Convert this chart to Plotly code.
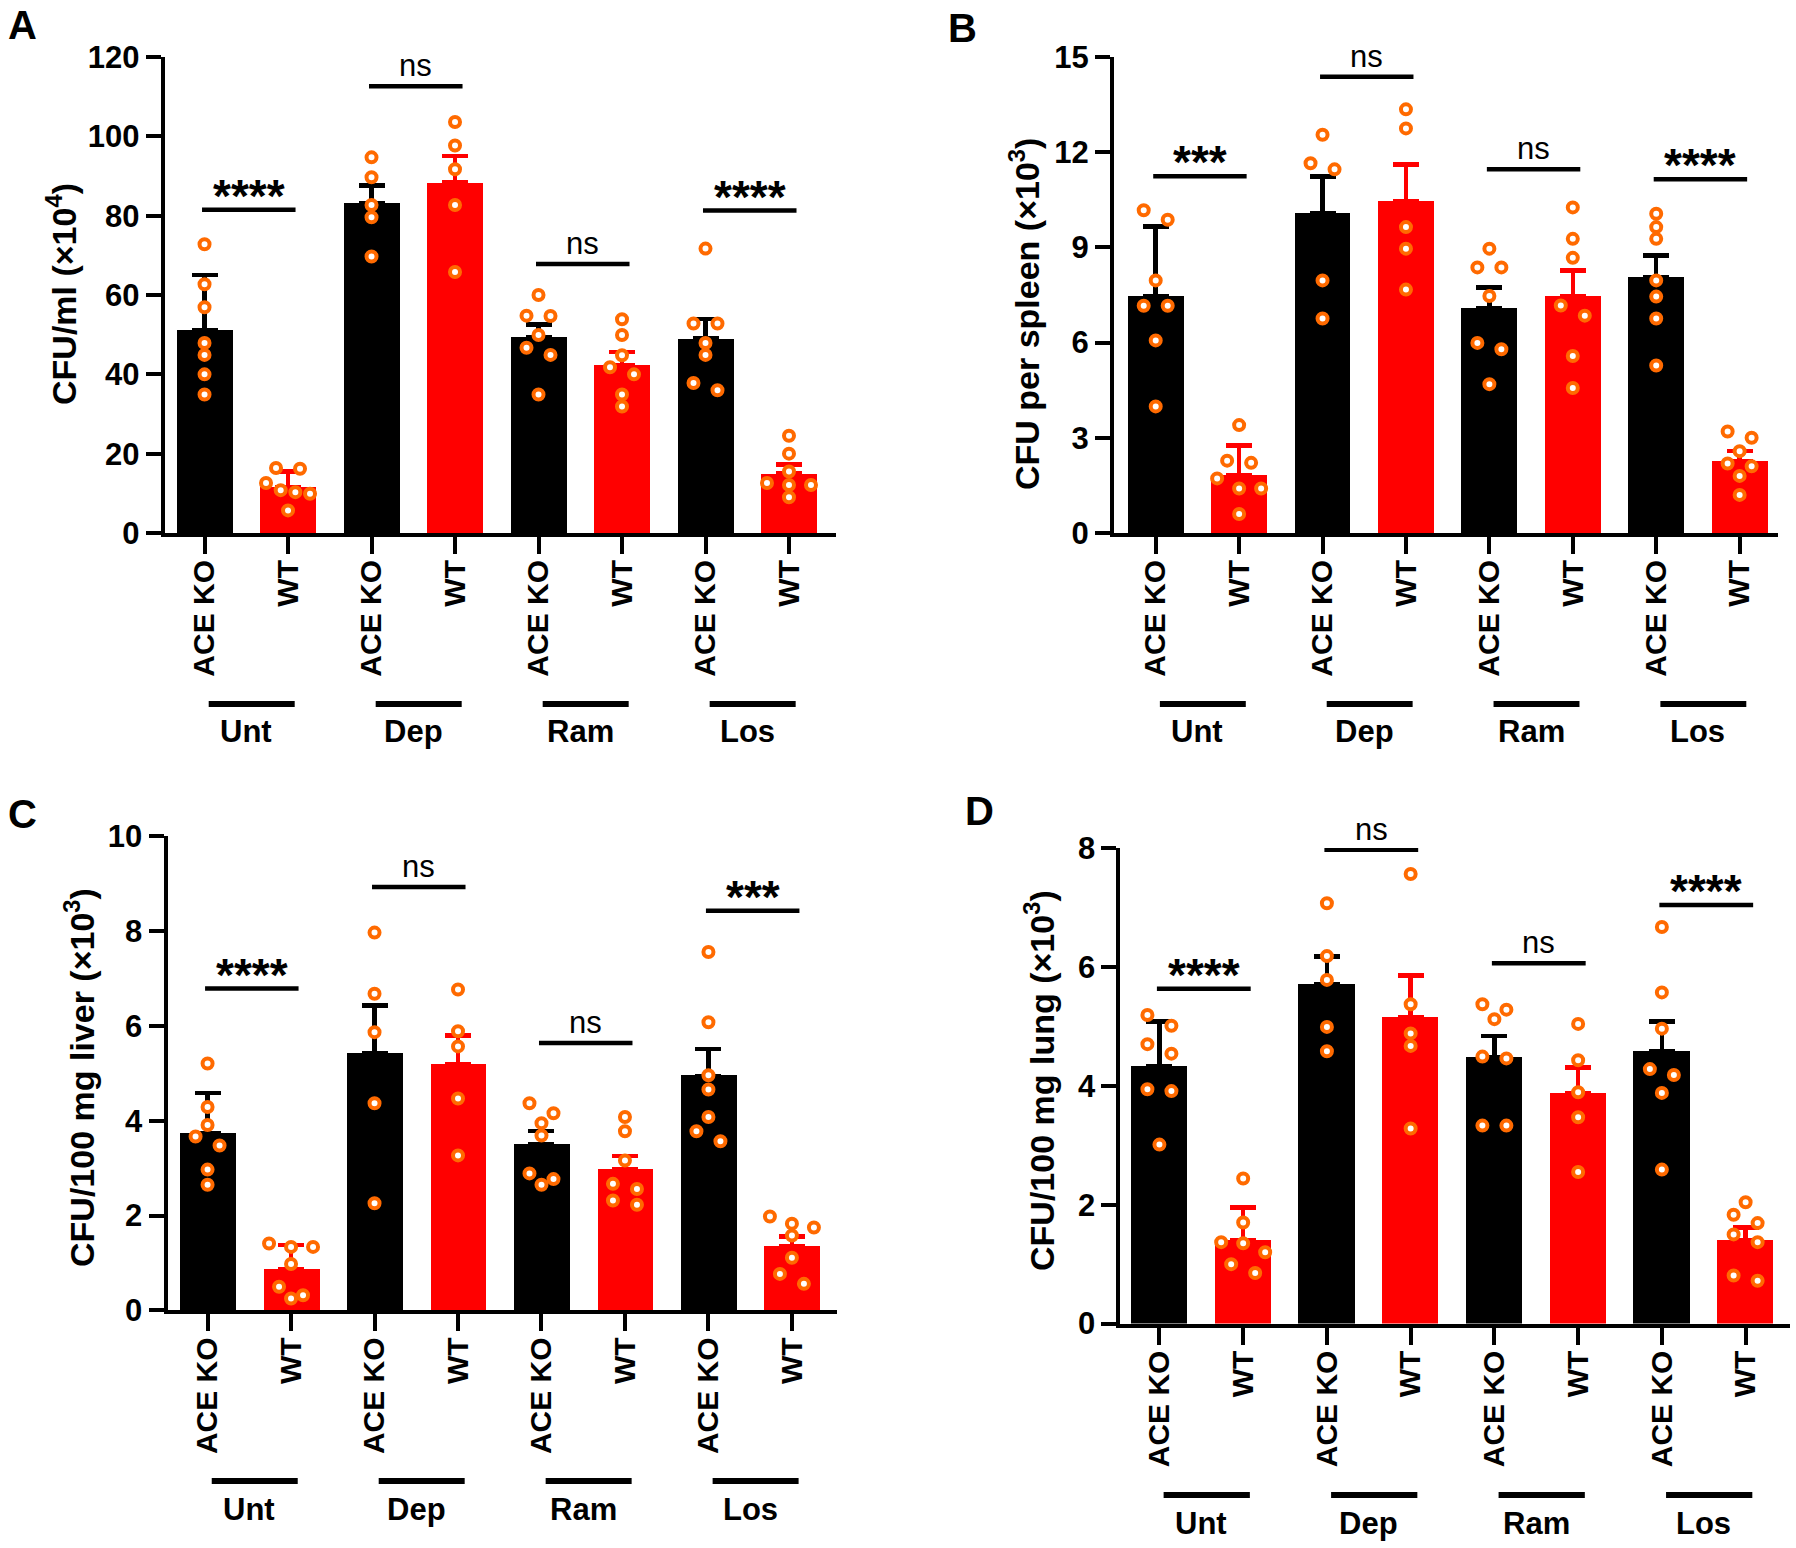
import plotly.graph_objects as go

W, H = 1796, 1548

# ---------------- data ----------------
groups = ["Unt", "Dep", "Ram", "Los"]
genotypes = ["ACE KO", "WT"]
x_tick_labels = [g for _ in groups for g in genotypes]

# Panel A - blood
a_ylabel = "CFU/ml (×10<sup>4</sup>)"
a_yticks = [0, 20, 40, 60, 80, 100, 120]
a_mean = [51.2, 11.6, 83.2, 88.3, 49.3, 42.4, 49.0, 15.0]
a_err = [13.8, 3.9, 4.4, 6.7, 3.3, 3.2, 4.9, 2.3]
a_points = [
    [72.8, 62.7, 56.9, 47.9, 44.9, 40.0, 34.9],
    [16.4, 16.2, 12.6, 10.8, 10.3, 9.9, 5.7],
    [94.7, 89.7, 82.7, 79.6, 69.7],
    [103.6, 97.7, 91.7, 82.7, 65.8],
    [60.0, 54.8, 54.7, 49.9, 46.7, 44.9, 34.9],
    [53.9, 49.9, 44.8, 41.8, 40.0, 34.9, 31.9],
    [71.7, 52.8, 52.8, 47.9, 44.9, 37.8, 36.0],
    [24.5, 20.0, 15.5, 12.6, 12.1, 12.1, 9.0],
]
a_sig = ["****", "ns", "ns", "****"]
a_sig_y = [81.5, 112.6, 67.8, 81.3]

# Panel B - spleen
b_ylabel = "CFU per spleen (×10<sup>3</sup>)"
b_yticks = [0, 3, 6, 9, 12, 15]
b_mean = [7.47, 1.83, 10.08, 10.47, 7.08, 7.47, 8.07, 2.27]
b_err = [2.19, 0.92, 1.16, 1.14, 0.66, 0.81, 0.68, 0.31]
b_points = [
    [10.17, 9.87, 7.96, 7.16, 7.16, 6.07, 3.99],
    [3.40, 2.28, 2.21, 1.72, 1.40, 1.40, 0.60],
    [12.55, 11.65, 11.46, 7.96, 6.76],
    [13.35, 12.75, 9.64, 8.96, 7.67],
    [8.96, 8.37, 8.37, 7.47, 5.99, 5.79, 4.69],
    [10.26, 9.27, 8.67, 7.17, 6.85, 5.58, 4.57],
    [10.06, 9.64, 9.27, 7.96, 7.45, 6.76, 5.28],
    [3.20, 3.00, 2.58, 2.19, 2.10, 1.80, 1.20],
]
b_sig = ["***", "ns", "ns", "****"]
b_sig_y = [11.24, 14.38, 11.46, 11.15]

# Panel C - liver
c_ylabel = "CFU/100 mg liver (×10<sup>3</sup>)"
c_yticks = [0, 2, 4, 6, 8, 10]
c_mean = [3.73, 0.86, 5.42, 5.19, 3.50, 2.97, 4.95, 1.36]
c_err = [0.86, 0.52, 1.01, 0.61, 0.28, 0.29, 0.56, 0.20]
c_points = [
    [5.21, 4.29, 3.91, 3.67, 3.48, 2.97, 2.65],
    [1.41, 1.34, 1.34, 0.98, 0.50, 0.32, 0.25],
    [7.97, 6.68, 5.87, 4.37, 2.26],
    [6.77, 5.89, 5.57, 4.47, 3.27],
    [4.37, 4.16, 3.95, 3.69, 2.89, 2.77, 2.65],
    [4.08, 3.78, 3.16, 2.67, 2.56, 2.32, 2.23],
    [7.56, 6.08, 4.96, 4.66, 4.08, 3.78, 3.57],
    [1.98, 1.83, 1.75, 1.58, 1.11, 0.77, 0.56],
]
c_sig = ["****", "ns", "ns", "***"]
c_sig_y = [6.79, 8.93, 5.64, 8.43]

# Panel D - lung
d_ylabel = "CFU/100 mg lung (×10<sup>3</sup>)"
d_yticks = [0, 2, 4, 6, 8]
d_mean = [4.33, 1.41, 5.71, 5.15, 4.48, 3.88, 4.58, 1.41]
d_err = [0.75, 0.54, 0.46, 0.70, 0.36, 0.43, 0.50, 0.21]
d_points = [
    [5.19, 5.01, 4.70, 4.54, 3.94, 3.91, 3.01],
    [2.44, 1.70, 1.37, 1.35, 1.20, 1.00, 0.85],
    [7.07, 6.18, 5.78, 4.99, 4.58],
    [7.56, 5.37, 4.88, 4.67, 3.28],
    [5.37, 5.28, 5.12, 4.49, 4.46, 3.33, 3.33],
    [5.04, 4.43, 3.89, 3.47, 2.55],
    [6.67, 5.57, 4.96, 4.28, 4.18, 3.88, 2.59],
    [2.04, 1.83, 1.69, 1.50, 1.37, 0.81, 0.72],
]
d_sig = ["****", "ns", "ns", "****"]
d_sig_y = [5.63, 7.97, 6.06, 7.04]

panel_data = [
    ("A", a_ylabel, a_yticks, a_mean, a_err, a_points, a_sig, a_sig_y),
    ("B", b_ylabel, b_yticks, b_mean, b_err, b_points, b_sig, b_sig_y),
    ("C", c_ylabel, c_yticks, c_mean, c_err, c_points, c_sig, c_sig_y),
    ("D", d_ylabel, d_yticks, d_mean, d_err, d_points, d_sig, d_sig_y),
]

# ---------------- layout (pixel geometry) ----------------
panel_geom = [
    dict(xdom=(164.7, 836), ydom=(533, 57), xr=(-0.477, 7.563), title=(61, 294),
         lab=(22, 2), gline=704, gtext=732),
    dict(xdom=(1114, 1778), ydom=(533, 57), xr=(-0.50, 7.46), title=(1024, 314),
         lab=(962, 5), gline=704, gtext=732),
    dict(xdom=(167.5, 837), ydom=(1310.4, 836.4), xr=(-0.48, 7.54), title=(79, 1078),
         lab=(22, 791), gline=1481, gtext=1509),
    dict(xdom=(1120.4, 1790), ydom=(1323.6, 847.9), xr=(-0.466, 7.53), title=(1039, 1081),
         lab=(980, 788), gline=1495, gtext=1523),
]

FONT = "Liberation Sans, Arial, sans-serif"
KO_COLOR = "#000000"
WT_COLOR = "#FF0000"
DOT_COLOR = "#FF6A00"
BAR_W = 0.67


def pxx(p):
    return p / W


def pxy(p):
    return 1 - p / H


def swarm(vals, px_per_unit, px_per_cat, thresh=11.0, step=24.0, span=44.0):
    order = sorted(range(len(vals)), key=lambda i: -vals[i])
    rows, cur = [], []
    for i in order:
        if cur and (vals[cur[0]] - vals[i]) * px_per_unit < thresh:
            cur.append(i)
        else:
            if cur:
                rows.append(cur)
            cur = [i]
    rows.append(cur)
    off = [0.0] * len(vals)
    for row in rows:
        n = len(row)
        if n < 2:
            continue
        s = min(step, span / (n - 1))
        for k, i in enumerate(row):
            off[i] = (k - (n - 1) / 2) * s / px_per_cat
    return off


fig = go.Figure()
annotations = []
shapes = []

for k, (geom, data) in enumerate(zip(panel_geom, panel_data), start=1):
    label, ylabel, yticks, mean, err, points, sig, sig_y = data
    sfx = "" if k == 1 else str(k)
    xa, ya = "x" + sfx, "y" + sfx
    ymax = yticks[-1]

    ko_idx = [i for i in range(len(mean)) if i % 2 == 0]
    wt_idx = [i for i in range(len(mean)) if i % 2 == 1]
    for idx, col in ((ko_idx, KO_COLOR), (wt_idx, WT_COLOR)):
        fig.add_trace(go.Bar(
            x=idx, y=[mean[i] for i in idx], width=BAR_W,
            marker=dict(color=col, line=dict(width=0)),
            error_y=dict(type="data", symmetric=False, array=[err[i] for i in idx],
                         arrayminus=[0] * len(idx), color=col, thickness=4.5, width=13),
            xaxis=xa, yaxis=ya, showlegend=False, hoverinfo="skip"))

    px_per_unit = (geom["ydom"][0] - geom["ydom"][1]) / ymax
    px_per_cat = (geom["xdom"][1] - geom["xdom"][0]) / (geom["xr"][1] - geom["xr"][0])
    xs, ys = [], []
    for i, vals in enumerate(points):
        offs = swarm(vals, px_per_unit, px_per_cat)
        xs += [i + o for o in offs]
        ys += vals
    fig.add_trace(go.Scatter(
        x=xs, y=ys, mode="markers", cliponaxis=False,
        marker=dict(symbol="circle", size=10, color="white",
                    line=dict(color=DOT_COLOR, width=4)),
        xaxis=xa, yaxis=ya, showlegend=False, hoverinfo="skip"))

    axis_common = dict(showline=True, linewidth=4, linecolor="black", ticks="outside",
                       tickwidth=4, tickcolor="black", showgrid=False, zeroline=False,
                       automargin=False, fixedrange=True)
    fig.layout["xaxis" + sfx] = dict(
        axis_common, domain=[pxx(geom["xdom"][0]), pxx(geom["xdom"][1])], anchor=ya,
        range=list(geom["xr"]), tickvals=list(range(len(mean))), ticktext=x_tick_labels,
        tickangle=-90, ticklen=17, ticklabelstandoff=-6,
        tickfont=dict(family=FONT, size=30, color="black", weight="bold"))
    fig.layout["yaxis" + sfx] = dict(
        axis_common, domain=[pxy(geom["ydom"][0]), pxy(geom["ydom"][1])], anchor=xa,
        range=[0, ymax], tickvals=yticks, ticktext=[str(t) for t in yticks], ticklen=15,
        tickfont=dict(family=FONT, size=31, color="black", weight="bold"))

    # significance brackets
    for g, (txt, yv) in enumerate(zip(sig, sig_y)):
        shapes.append(dict(type="line", xref=xa, yref=ya, x0=2 * g - 0.03, x1=2 * g + 1.09,
                           y0=yv, y1=yv, line=dict(color="black", width=4.5)))
        if txt == "ns":
            annotations.append(dict(xref=xa, yref=ya, x=2 * g + 0.53, y=yv, text="ns",
                                    showarrow=False, yanchor="bottom", yshift=1,
                                    font=dict(family=FONT, size=31, color="black")))
        else:
            annotations.append(dict(xref=xa, yref=ya, x=2 * g + 0.53, y=yv, text="<b>" + txt + "</b>",
                                    showarrow=False, yanchor="bottom", yshift=-14,
                                    font=dict(family=FONT, size=46, color="black")))

    # group labels under the axis
    for g, name in enumerate(groups):
        shapes.append(dict(type="line", xref=xa, yref="paper", x0=2 * g + 0.05, x1=2 * g + 1.08,
                           y0=pxy(geom["gline"]), y1=pxy(geom["gline"]),
                           line=dict(color="black", width=6)))
        annotations.append(dict(xref=xa, yref="paper", x=2 * g + 0.5, y=pxy(geom["gtext"]),
                                text="<b>" + name + "</b>", showarrow=False, yanchor="middle",
                                font=dict(family=FONT, size=31, color="black")))

    # y-axis title
    annotations.append(dict(xref="paper", yref="paper", x=pxx(geom["title"][0]),
                            y=pxy(geom["title"][1]), text="<b>" + ylabel + "</b>",
                            textangle=-90, showarrow=False, xanchor="center", yanchor="middle",
                            font=dict(family=FONT, size=34, color="black")))
    # panel letter
    annotations.append(dict(xref="paper", yref="paper", x=pxx(geom["lab"][0]),
                            y=pxy(geom["lab"][1]), text="<b>" + label + "</b>",
                            showarrow=False, xanchor="center", yanchor="top", borderpad=0,
                            font=dict(family=FONT, size=40, color="black")))

fig.update_layout(
    template="none", width=W, height=H, autosize=False,
    margin=dict(l=0, r=0, t=0, b=0),
    paper_bgcolor="white", plot_bgcolor="white",
    barmode="overlay", bargap=0,
    showlegend=False, annotations=annotations, shapes=shapes,
)

fig.write_html("out.html", config={"responsive": False, "displayModeBar": False},
               post_script="document.body.style.margin='0';document.body.style.overflow='hidden';")
